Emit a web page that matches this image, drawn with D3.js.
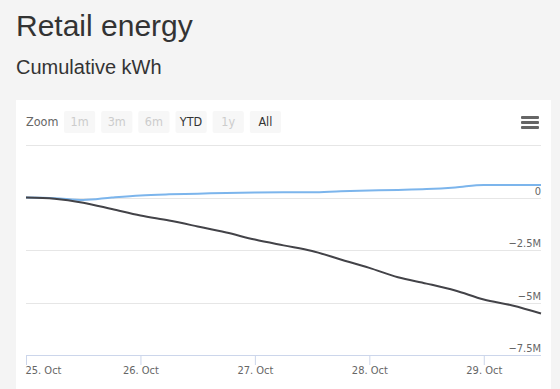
<!DOCTYPE html>
<html>
<head>
<meta charset="utf-8">
<script src="https://cdn.jsdelivr.net/npm/d3@7"></script>
<style>
  html, body { margin: 0; padding: 0; background: #f4f4f4; }
  svg { display: block; }
</style>
</head>
<body>
<svg id="chart" width="560" height="389"></svg>
<script>
// Data: hours since 25 Oct 00:00 UTC, values in kWh
const hours = [0, 6, 12, 18, 24, 30, 36, 42, 48, 54, 60, 66, 72, 78, 84, 90, 96, 102, 108];
const seriesA = [0, -0.03, -0.12, 0.0, 0.1, 0.15, 0.18, 0.22, 0.24, 0.25, 0.25, 0.3, 0.33, 0.36, 0.4, 0.48, 0.6, 0.6, 0.59]
  .map(v => v * 1e6);
const seriesB = [0, -0.06, -0.25, -0.55, -0.86, -1.1, -1.38, -1.67, -2.0, -2.28, -2.55, -2.95, -3.35, -3.8, -4.1, -4.43, -4.86, -5.14, -5.52]
  .map(v => v * 1e6);
const yTicks = [2.5e6, 0, -2.5e6, -5e6, -7.5e6];
const zoomButtons = [
  { label: '1m', enabled: false },
  { label: '3m', enabled: false },
  { label: '6m', enabled: false },
  { label: 'YTD', enabled: true },
  { label: '1y', enabled: false },
  { label: 'All', enabled: true },
];
const start = Date.UTC(2023, 9, 25);
const times = hours.map(h => new Date(start + h * 3600e3));

const svg = d3.select('#chart');
const font = '"DejaVu Sans Condensed", "DejaVu Sans", sans-serif';

// Titles
svg.append('text').attr('x', 16).attr('y', 36)
  .attr('fill', '#333').style('font-family', 'Arial, "Liberation Sans", sans-serif')
  .style('font-size', '30px').text('Retail energy');
svg.append('text').attr('x', 16).attr('y', 74)
  .attr('fill', '#333').style('font-family', 'Arial, "Liberation Sans", sans-serif')
  .style('font-size', '20px').text('Cumulative kWh');

// Chart box
svg.append('rect').attr('x', 16).attr('y', 100).attr('width', 535).attr('height', 300)
  .attr('fill', '#fff');

// Range selector
svg.append('text').attr('x', 26).attr('y', 126).attr('fill', '#666')
  .style('font-family', font).style('font-size', '12.5px').text('Zoom');
const btnX = d3.scaleBand().domain(zoomButtons.map(d => d.label)).range([64, 281]).paddingInner(0.16);
const btn = svg.selectAll('.btn').data(zoomButtons).enter().append('g').attr('class', 'btn')
  .attr('transform', d => `translate(${btnX(d.label)},111)`);
btn.append('rect').attr('width', btnX.bandwidth()).attr('height', 22).attr('rx', 2)
  .attr('fill', '#f7f7f7');
btn.append('text').attr('x', btnX.bandwidth() / 2).attr('y', 15).attr('text-anchor', 'middle')
  .attr('fill', d => d.enabled ? '#333' : '#ccc')
  .style('font-family', font).style('font-size', '12.5px').text(d => d.label);

// Menu icon
svg.append('g').selectAll('rect').data([0, 1, 2]).enter().append('rect')
  .attr('x', 521).attr('y', d => 116 + d * 5).attr('width', 18).attr('height', 3).attr('rx', 1)
  .attr('fill', '#666');

// Scales
const margin = { left: 26, right: 541, top: 145, bottom: 355 };
const x = d3.scaleUtc().domain([times[0], times[times.length - 1]]).range([margin.left, margin.right]);
const y = d3.scaleLinear().domain([-7.5e6, 2.5e6]).range([margin.bottom, margin.top]);

// Grid
svg.append('g').selectAll('line').data(yTicks).enter().append('line')
  .attr('x1', margin.left).attr('x2', margin.right)
  .attr('y1', d => Math.round(y(d)) + 0.5).attr('y2', d => Math.round(y(d)) + 0.5)
  .attr('stroke', '#e6e6e6');

// Y labels (right side, above line)
const fmtY = d => d === 0 ? '0' : (d / 1e6).toString().replace('-', '\u2212') + 'M';
svg.append('g').selectAll('text').data(yTicks.filter(d => d < 2.5e6)).enter().append('text')
  .attr('x', margin.right).attr('y', d => y(d) - 3).attr('text-anchor', 'end')
  .attr('fill', '#666').style('font-family', font).style('font-size', '11px')
  .text(fmtY);

// X axis
const xAxis = d3.axisBottom(x).ticks(d3.utcDay.every(1)).tickSize(10)
  .tickFormat(d3.utcFormat('%-d. %b'));
const gx = svg.append('g').attr('transform', `translate(0,${margin.bottom})`).call(xAxis);
gx.select('.domain').attr('stroke', '#ccd6eb').attr('d', `M${margin.left},0.5H${margin.right}`);
gx.selectAll('.tick line').attr('stroke', '#ccd6eb');
gx.selectAll('.tick text').attr('fill', '#666').attr('dy', 0).attr('y', 19)
  .style('font-family', font).style('font-size', '11px')
  .attr('text-anchor', (d, i) => i === 0 ? 'start' : 'middle')
  .attr('x', (d, i) => i === 0 ? -1 : 0);

// Lines
const line = d3.line().x((d, i) => x(times[i])).y(d => y(d)).curve(d3.curveMonotoneX);
svg.append('path').datum(seriesA).attr('fill', 'none').attr('stroke', '#7cb5ec')
  .attr('stroke-width', 2).attr('stroke-linejoin', 'round').attr('d', line);
svg.append('path').datum(seriesB).attr('fill', 'none').attr('stroke', '#434348')
  .attr('stroke-width', 2).attr('stroke-linejoin', 'round').attr('d', line);
</script>
</body>
</html>
